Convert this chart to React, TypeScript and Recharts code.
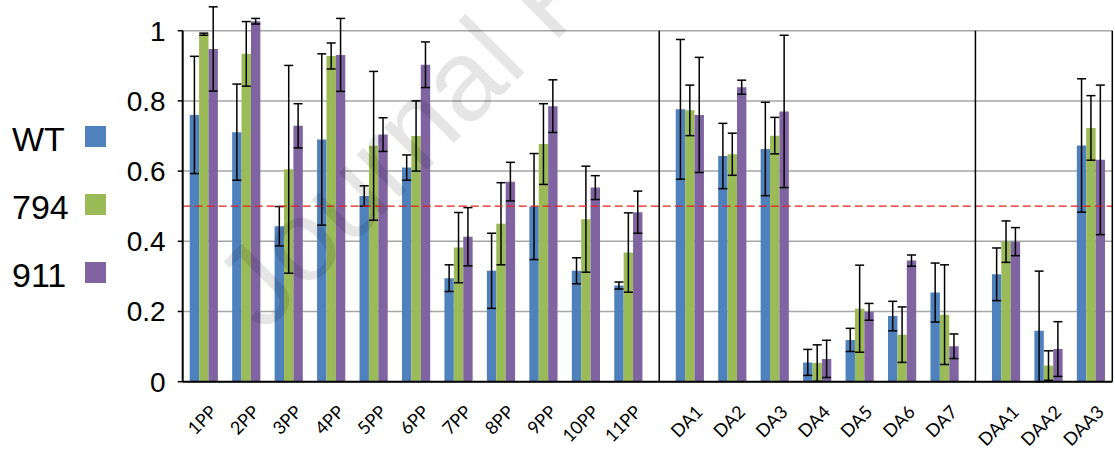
import React from 'react';
import {
  BarChart,
  Bar,
  XAxis,
  YAxis,
  CartesianGrid,
  ErrorBar,
  ReferenceLine,
  Legend,
} from 'recharts';

// ---------- data ----------
const ppCategories = ['1PP', '2PP', '3PP', '4PP', '5PP', '6PP', '7PP', '8PP', '9PP', '10PP', '11PP'];
const daCategories = ['DA1', 'DA2', 'DA3', 'DA4', 'DA5', 'DA6', 'DA7'];
const daaCategories = ['DAA1', 'DAA2', 'DAA3'];
const seriesNames = ['WT', '794', '911'];

const wtValues = [
  0.76, 0.711, 0.443, 0.69, 0.529, 0.61, 0.295, 0.316, 0.499, 0.316, 0.274,
  0.776, 0.643, 0.663, 0.055, 0.119, 0.187, 0.254,
  0.306, 0.145, 0.673,
];
const wtErrors: (number | number[])[] = [
  0.167, 0.137, 0.056, 0.244, 0.029, 0.036, 0.038, 0.107, 0.151, 0.037, 0.01,
  0.199, 0.093, 0.133, 0.037, 0.033, 0.042, 0.084,
  0.075, [0.145, 0.17], 0.19,
];
const m794Values = [
  0.99, 0.934, 0.605, 0.928, 0.672, 0.7, 0.382, 0.45, 0.677, 0.463, 0.368,
  0.773, 0.648, 0.701, 0.053, 0.208, 0.134, 0.191,
  0.399, 0.046, 0.723,
];
const m794Errors = [
  0.003, 0.092, 0.296, 0.037, 0.212, 0.1, 0.1, 0.117, 0.115, 0.151, 0.113,
  0.072, 0.06, 0.052, 0.052, 0.124, 0.079, 0.142,
  0.059, 0.042, 0.092,
];
const m911Values = [
  0.948, 1.027, 0.729, 0.931, 0.704, 0.903, 0.413, 0.57, 0.785, 0.553, 0.483,
  0.76, 0.839, 0.77, 0.065, 0.199, 0.345, 0.101,
  0.399, 0.093, 0.632,
];
const m911Errors = [
  0.12, 0.008, 0.063, 0.104, 0.048, 0.065, 0.083, 0.055, 0.075, 0.034, 0.06,
  0.164, 0.02, 0.217, 0.053, 0.024, 0.016, 0.035,
  0.04, 0.078, 0.213,
];

const yTicks = [0, 0.2, 0.4, 0.6, 0.8, 1];
const thresholdValue = 0.5;

// ---------- layout (category slots along a numeric axis) ----------
const GROUP_GAP = 0.448;
const groups = [ppCategories, daCategories, daaCategories];

const centers: number[] = [];
const boundaries: number[] = [];
const separators: number[] = [];
const labels: string[] = [];
let cursor = 0;
groups.forEach((g, gi) => {
  g.forEach((name, i) => {
    boundaries.push(cursor + i);
    centers.push(cursor + i + 0.5);
    labels.push(name);
  });
  boundaries.push(cursor + g.length);
  cursor += g.length;
  if (gi < groups.length - 1) {
    separators.push(cursor + GROUP_GAP / 2);
    cursor += GROUP_GAP;
  }
});
const xMax = cursor;

const rows = labels.map((name, i) => ({
  name,
  x: centers[i],
  wt: wtValues[i],
  wtErr: wtErrors[i],
  m794: m794Values[i],
  m794Err: m794Errors[i],
  m911: m911Values[i],
  m911Err: m911Errors[i],
}));

const COLORS = { wt: '#4F81BD', m794: '#9BBB59', m911: '#8064A2' };

const CategoryTick = (props: any) => {
  const { x, y, index, payload } = props;
  const idx = payload && typeof payload.index === 'number' ? payload.index : index;
  const ax = x + 14;
  const ay = y + 23.5;
  return (
    <text
      x={ax}
      y={ay}
      transform={`rotate(-45, ${ax}, ${ay})`}
      textAnchor="end"
      fontFamily="Lato, 'Liberation Sans', sans-serif"
      fontSize={18}
      fill="#000"
    >
      {labels[idx]}
    </text>
  );
};

const renderLegend = (props: any) => {
  const payload = [...(props.payload || [])].sort(
    (a: any, b: any) => seriesNames.indexOf(a.value) - seriesNames.indexOf(b.value)
  );
  return (
    <div style={{ position: 'relative', width: 110, height: 204 }}>
      {payload.map((entry: any, i: number) => (
        <div
          key={i}
          style={{ position: 'absolute', left: 0, top: i * 68, width: 110, height: 68 }}
        >
          <span
            style={{
              position: 'absolute',
              left: 12,
              top: 0,
              lineHeight: '68px',
              fontSize: 34,
              fontFamily: "'Liberation Sans', Arial, sans-serif",
              color: '#000',
            }}
          >
            {entry.value}
          </span>
          <span
            style={{
              position: 'absolute',
              left: 85,
              top: 20.5,
              width: 21,
              height: 21,
              background: entry.color,
            }}
          />
        </div>
      ))}
    </div>
  );
};

export default function App() {
  return (
    <div style={{ position: 'absolute', left: 0, top: 0, width: 1115, height: 452, background: '#fff' }}>
      <BarChart
        width={1115}
        height={452}
        data={rows}
        margin={{ top: -3, right: 2.7, bottom: 0, left: 6.7 }}
        barGap={0}
        barCategoryGap={0}
      >
        <CartesianGrid xAxisId="b_labels" vertical={false} stroke="#a6a6a6" strokeWidth={1.5} />
        <XAxis
          xAxisId="b_labels"
          dataKey="x"
          type="number"
          domain={[0, xMax]}
          ticks={centers}
          interval={0}
          tickLine={false}
          axisLine={false}
          tickSize={0}
          tickMargin={0}
          height={62.3}
          allowDataOverflow
          tick={<CategoryTick />}
        />
        <XAxis
          xAxisId="a_ticks"
          type="number"
          domain={[0, xMax]}
          ticks={boundaries}
          interval={0}
          tick={false}
          tickSize={6}
          height={8}
          allowDataOverflow
          axisLine={{ stroke: '#000', strokeWidth: 2 }}
          tickLine={{ stroke: '#000', strokeWidth: 1.5 }}
        />
        <YAxis
          domain={[0, 1.096]}
          ticks={yTicks}
          interval={0}
          width={66}
          tickSize={5}
          tickMargin={12}
          allowDataOverflow
          axisLine={false}
          tickLine={{ stroke: '#000', strokeWidth: 1.5 }}
          tickFormatter={(v: number) => String(v)}
          tick={{ fill: '#000', fontSize: 28, fontFamily: "'Liberation Sans', Arial, sans-serif" }}
        />
        <Legend
          layout="vertical"
          align="left"
          verticalAlign="middle"
          width={110}
          content={renderLegend}
          wrapperStyle={{ left: 0, top: 105, width: 110, height: 204 }}
        />
        <Bar xAxisId="b_labels" dataKey="wt" name="WT" fill={COLORS.wt} barSize={9.4} isAnimationActive={false}>
          <ErrorBar dataKey="wtErr" direction="y" width={4.5} stroke="#000" strokeWidth={1.5} />
        </Bar>
        <Bar xAxisId="b_labels" dataKey="m794" name="794" fill={COLORS.m794} barSize={9.4} isAnimationActive={false}>
          <ErrorBar dataKey="m794Err" direction="y" width={4.5} stroke="#000" strokeWidth={1.5} />
        </Bar>
        <Bar xAxisId="b_labels" dataKey="m911" name="911" fill={COLORS.m911} barSize={9.4} isAnimationActive={false}>
          <ErrorBar dataKey="m911Err" direction="y" width={4.5} stroke="#000" strokeWidth={1.5} />
        </Bar>
        <ReferenceLine
          xAxisId="b_labels"
          y={thresholdValue}
          stroke="#e0201c"
          strokeDasharray="8 4"
          strokeWidth={1.3}
        />
        <ReferenceLine
          xAxisId="b_labels"
          ifOverflow="visible"
          segment={[{ x: 0, y: 0 }, { x: 0, y: 1 }]}
          stroke="#000"
          strokeWidth={2}
        />
        {separators.map((s) => (
          <ReferenceLine
            key={s}
            xAxisId="b_labels"
            ifOverflow="visible"
            segment={[{ x: s, y: 0 }, { x: s, y: 1 }]}
            stroke="#000"
            strokeWidth={1.5}
          />
        ))}
        <ReferenceLine
          xAxisId="b_labels"
          ifOverflow="visible"
          segment={[{ x: xMax, y: 0 }, { x: xMax, y: 1 }]}
          stroke="#000"
          strokeWidth={1.5}
        />
      </BarChart>
      <svg
        width={1115}
        height={452}
        style={{ position: 'absolute', left: 0, top: 0, pointerEvents: 'none' }}
      >
        <text
          x={263}
          y={334}
          transform="rotate(-45, 263, 334)"
          fontSize={115}
          fontFamily="'Liberation Sans', Arial, sans-serif"
          fill="#000"
          fillOpacity={0.1}
        >
          Journal Pre-proof
        </text>
      </svg>
    </div>
  );
}
